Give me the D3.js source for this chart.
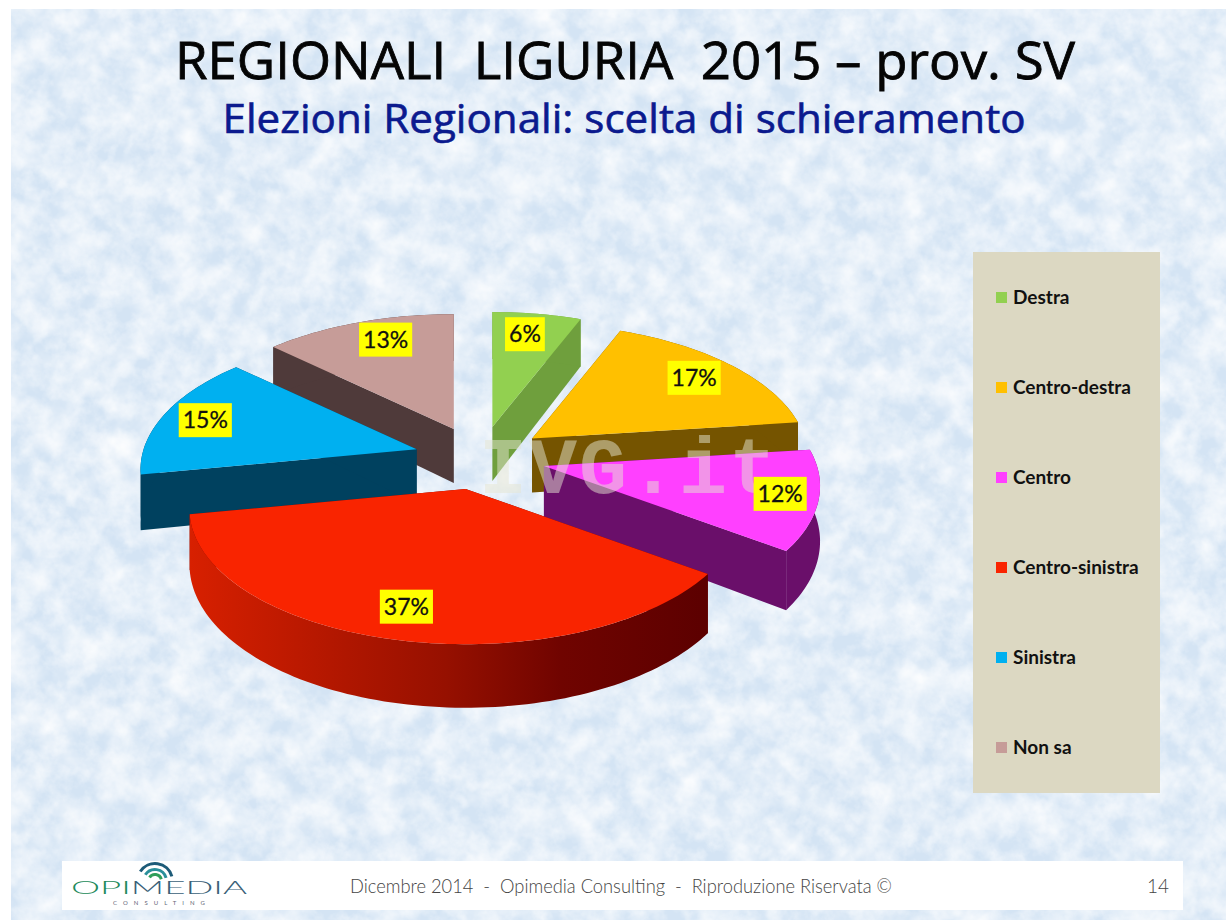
<!DOCTYPE html>
<html>
<head>
<meta charset="utf-8">
<style>
  html, body { margin: 0; padding: 0; background: #fff; }
  svg { display: block; }
</style>
<script src="https://cdnjs.cloudflare.com/ajax/libs/d3/7.8.5/d3.min.js"></script>
</head>
<body>
<svg id="chart" width="1226" height="920"></svg>
<script>
// ---------------- data ----------------
const categories = ["Destra", "Centro-destra", "Centro", "Centro-sinistra", "Sinistra", "Non sa"];
const values = [6, 17, 12, 37, 15, 13];

const topColors = ["#92d050", "#ffc000", "#ff40ff", "#f92400", "#00b0f0", "#c69c98"];
const wallColors = ["#6f9f3d", "#755400", "#6a0f6a", "url(#redWall)", "#00415f", "#4f3a3a"];

// back to front
const drawOrder = ["Non sa", "Destra", "Centro-destra", "Sinistra", "Centro", "Centro-sinistra"];

const svg = d3.select("#chart");
const defs = svg.append("defs");

// ---------------- slide background ----------------
function marbleFilter(id, freq, seed, gain, offset) {
  const f = defs.append("filter").attr("id", id)
    .attr("x", 0).attr("y", 0).attr("width", "100%").attr("height", "100%");
  f.append("feTurbulence")
    .attr("type", "fractalNoise").attr("baseFrequency", freq).attr("numOctaves", 4).attr("seed", seed);
  f.append("feColorMatrix").attr("type", "matrix")
    .attr("values", `0 0 0 0 1  0 0 0 0 1  0 0 0 0 1  ${gain} 0 0 0 ${offset}`);
}
marbleFilter("marbleLight", 0.03, 7, 1.5, -0.5);
marbleFilter("marbleDark", 0.06, 21, 1.1, -0.42);

const slide = { x: 11, y: 9, width: 1215, height: 911 };
function slideRect(fill, filter) {
  const r = svg.append("rect").attr("x", slide.x).attr("y", slide.y)
    .attr("width", slide.width).attr("height", slide.height).attr("fill", fill);
  if (filter) r.attr("filter", filter);
}
slideRect("#d4e4f4");
slideRect("#ffffff", "url(#marbleLight)");
slideRect("#b4cfe8", "url(#marbleDark)");

// titles
svg.append("text").attr("x", 625).attr("y", 79)
  .attr("text-anchor", "middle")
  .attr("font-family", "Open Sans").attr("font-size", 52).attr("fill", "#050505")
  .attr("stroke", "#050505").attr("stroke-width", 0.8)
  .style("white-space", "pre")
  .attr("textLength", 900).attr("lengthAdjust", "spacingAndGlyphs")
  .text("REGIONALI  LIGURIA  2015 – prov. SV");
svg.append("text").attr("x", 624).attr("y", 133)
  .attr("text-anchor", "middle")
  .attr("font-family", "Open Sans").attr("font-size", 40).attr("fill", "#0b1a8e")
  .attr("stroke", "#0b1a8e").attr("stroke-width", 0.6)
  .attr("textLength", 803).attr("lengthAdjust", "spacingAndGlyphs")
  .text("Elezioni Regionali: scelta di schieramento");

// ---------------- pie ----------------
const cx = 480, cy = 458;
const rx = 273, ry = 132, perspective = 0.15;
const explode = 66, explodeY = 0.48;
const depth = 54;

// small nudges of the value labels, same order as categories
const labelNudge = [[-4, 0], [0, 0], [11, 0], [-2, -6], [-5, 0], [10, -2]];

const pie = d3.pie().sort(null).value(d => d.value);
const slices = pie(categories.map((name, i) => ({ name, value: values[i], i })));

// disk point on the tilted plane, relative to the slice tip
function project(a) {
  const p = 1 / (1 + perspective * Math.cos(a));
  return [rx * Math.sin(a) * p, -ry * Math.cos(a) * p, depth * p];
}

function tipOf(s) {
  const m = (s.startAngle + s.endAngle) / 2;
  return [cx + explode * Math.sin(m), cy - explode * explodeY * Math.cos(m)];
}

function arcPoints(s, tip, down) {
  const n = Math.max(2, Math.ceil((s.endAngle - s.startAngle) * 40));
  return d3.range(n + 1).map(k => {
    const a = s.startAngle + (s.endAngle - s.startAngle) * k / n;
    const q = project(a);
    return [tip[0] + q[0], tip[1] + q[1] + (down ? q[2] : 0)];
  });
}

const line = d3.line();

// gradient on the front wall of the big slice
const redWall = defs.append("linearGradient").attr("id", "redWall")
  .attr("gradientUnits", "userSpaceOnUse")
  .attr("x1", 187).attr("x2", 706).attr("y1", 0).attr("y2", 0);
[[0, "#d82000"], [0.18, "#c01a00"], [0.5, "#961000"], [0.72, "#700400"], [1, "#5c0000"]].forEach(d =>
  redWall.append("stop").attr("offset", d[0]).attr("stop-color", d[1]));

const gPie = svg.append("g");
drawOrder.forEach(name => {
  const s = slices.find(d => d.data.name === name);
  const tip = tipOf(s);
  const top = arcPoints(s, tip, false);
  const bottom = arcPoints(s, tip, true);
  const wall = wallColors[s.data.i];
  const g = gPie.append("g");

  // radial faces
  [top[0], top[top.length - 1]].forEach((q, k) => {
    const b = k === 0 ? bottom[0] : bottom[bottom.length - 1];
    g.append("path")
      .attr("d", line([tip, q, b, [tip[0], tip[1] + depth]]) + "Z")
      .attr("fill", s.data.i === 3 ? "#700400" : wall);
  });
  // outer wall
  g.append("path")
    .attr("d", line(top.concat(bottom.slice().reverse())) + "Z")
    .attr("fill", wall);
  // top face
  g.append("path")
    .attr("d", line([tip].concat(top)) + "Z")
    .attr("fill", topColors[s.data.i]);
});

// watermark over the pie
svg.append("text").attr("x", 479).attr("y", 493)
  .attr("font-family", "Liberation Mono").attr("font-weight", 700).attr("font-size", 80)
  .attr("letter-spacing", 2)
  .attr("fill", "#e6e6d2").attr("fill-opacity", 0.5)
  .text("IVG.it");

// value labels
const gLabels = svg.append("g");
slices.forEach(s => {
  const tip = tipOf(s);
  const q = project((s.startAngle + s.endAngle) / 2);
  const nudge = labelNudge[s.data.i];
  const x = tip[0] + q[0] * 0.82 + nudge[0], y = tip[1] + q[1] * 0.82 + nudge[1];
  const g = gLabels.append("g").attr("transform", `translate(${x},${y})`);
  const box = g.append("rect").attr("fill", "#ffff00");
  const t = g.append("text").attr("text-anchor", "middle").attr("y", 8)
    .attr("font-family", "Lato").attr("font-size", 23).attr("fill", "#111")
    .attr("stroke", "#111").attr("stroke-width", 0.3)
    .text(s.data.value + "%");
  const w = t.node().getComputedTextLength() + 8;
  box.attr("x", -w / 2).attr("y", -17).attr("width", w).attr("height", 34);
});

// ---------------- legend ----------------
svg.append("rect").attr("x", 973).attr("y", 252).attr("width", 187).attr("height", 541).attr("fill", "#dcd8c2");
const legendY = d3.scalePoint().domain(categories).range([297, 747]);
const legend = svg.append("g").selectAll("g").data(categories).enter().append("g")
  .attr("transform", d => `translate(996,${legendY(d)})`);
legend.append("rect").attr("x", 0).attr("y", -5).attr("width", 11).attr("height", 11)
  .attr("fill", (d, i) => topColors[i]);
legend.append("text").attr("x", 17).attr("y", 7)
  .attr("font-family", "Lato").attr("font-weight", 700).attr("font-size", 19).attr("fill", "#111")
  .text(d => d);

// ---------------- footer ----------------
svg.append("rect").attr("x", 62).attr("y", 861).attr("width", 1121).attr("height", 49).attr("fill", "#fff");
svg.append("text").attr("x", 350).attr("y", 893)
  .attr("font-family", "Lato").attr("font-weight", 300).attr("font-size", 19).attr("fill", "#444")
  .attr("textLength", 542).attr("lengthAdjust", "spacingAndGlyphs")
  .style("white-space", "pre")
  .text("Dicembre 2014  -  Opimedia Consulting  -  Riproduzione Riservata ©");
svg.append("text").attr("x", 1147).attr("y", 893)
  .attr("font-family", "Lato").attr("font-weight", 300).attr("font-size", 19).attr("fill", "#444")
  .text("14");

// logo
const logoArc = d3.arc();
[[19, "#1d5b78"], [13, "#2a8f9a"], [8, "#2f9e5a"]].forEach(d => {
  svg.append("path")
    .attr("transform", "translate(155,881)")
    .attr("d", logoArc({ innerRadius: d[0] - 3, outerRadius: d[0], startAngle: -1.0, endAngle: 1.3 }))
    .attr("fill", d[1]);
});
const logo = svg.append("text").attr("x", 71).attr("y", 894)
  .attr("font-family", "Lato").attr("font-weight", 300).attr("font-size", 17)
  .attr("textLength", 176).attr("lengthAdjust", "spacingAndGlyphs");
logo.append("tspan").attr("fill", "#1e8a5c").text("OPI");
logo.append("tspan").attr("fill", "#3a5f78").text("MEDIA");
svg.append("text").attr("x", 113).attr("y", 905)
  .attr("font-family", "Lato").attr("font-size", 6).attr("fill", "#667")
  .attr("textLength", 92).attr("lengthAdjust", "spacing")
  .text("CONSULTING");
</script>
</body>
</html>
